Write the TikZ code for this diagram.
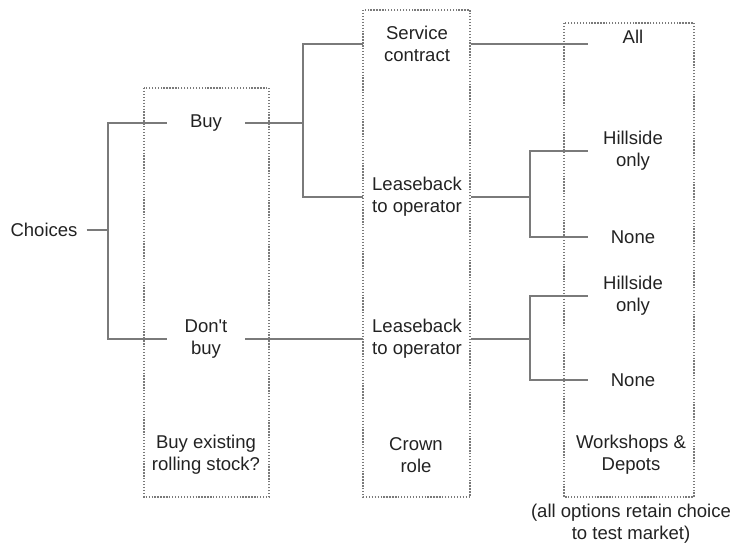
\documentclass[tikz,border=0pt]{standalone}
\usepackage{fontspec}
\setmainfont{Liberation Sans}
\definecolor{linegray}{HTML}{7A7A7A}
\definecolor{txtgray}{HTML}{222222}
\tikzset{
  branch/.style={draw=linegray, line width=0.9pt},
  stagebox/.style={draw=linegray, dash pattern=on 1pt off 1.2pt, line width=0.8pt},
  opt/.style={inner sep=0pt, align=center, text=txtgray, font=\fontsize{13.9}{16.5}\selectfont}
}

\begin{document}
\begin{tikzpicture}[x=0.75pt, y=-0.75pt]
            \useasboundingbox (0, 0) rectangle (736, 547);
            % stage boxes
            \draw[stagebox] (144, 88) rectangle (269, 497);
            \draw[stagebox] (363, 10) rectangle (470, 497);
            \draw[stagebox] (564, 23) rectangle (694, 497);
            % options
            \node[opt, inner xsep=6.75pt] (choices) at (44, 230) {Choices};
            \node[opt, minimum width=58.5pt] (buy) at (206, 123) {Buy};
            \node[opt, minimum width=58.5pt] (dontbuy) at (206, 339) {Don\textquotesingle t\\buy};
            \node[opt, minimum width=81pt] (service) at (417, 44) {Service\\contract};
            \node[opt, minimum width=81pt] (lease1) at (417, 197) {Leaseback\\to operator};
            \node[opt, minimum width=81pt] (lease2) at (417, 339) {Leaseback\\to operator};
            \node[opt, minimum width=67.5pt] (all) at (633, 37) {All};
            \node[opt, minimum width=67.5pt] (hill1) at (633, 151) {Hillside\\only};
            \node[opt, minimum width=67.5pt] (none1) at (633, 237) {None};
            \node[opt, minimum width=67.5pt] (hill2) at (633, 296) {Hillside\\only};
            \node[opt, minimum width=67.5pt] (none2) at (633, 380) {None};
            % stage labels
            \node[opt] (stock) at (206, 455) {Buy existing\\rolling stock?};
            \node[opt] (crown) at (416, 455) {Crown\\role};
            \node[opt] (works) at (631, 455) {Workshops \&\\Depots};
            \node[opt] (note) at (631, 524) {(all options retain choice\\to test market)};
            % junctions
            \coordinate (j1) at (108, 230);
            \coordinate (j2) at (303, 123);
            \coordinate (j3) at (530, 197);
            \coordinate (j4) at (530, 339);
            % connectors
            \draw[branch] (choices) -- (j1);
            \draw[branch] (buy.west) -- (buy.west -| j1) -- (dontbuy.west -| j1) -- (dontbuy.west);
            \draw[branch] (buy.east) -- (j2);
            \draw[branch] (service.west) -- (service.west -| j2) -- (lease1.west -| j2) -- (lease1.west);
            \draw[branch] (dontbuy.east) -- (lease2.west);
            \draw[branch] (service.east) -- (service.east -| all.west);
            \draw[branch] (lease1.east) -- (j3);
            \draw[branch] (hill1.west) -- (hill1.west -| j3) -- (none1.west -| j3) -- (none1.west);
            \draw[branch] (lease2.east) -- (j4);
            \draw[branch] (hill2.west) -- (hill2.west -| j4) -- (none2.west -| j4) -- (none2.west);
        \end{tikzpicture}
\end{document}
